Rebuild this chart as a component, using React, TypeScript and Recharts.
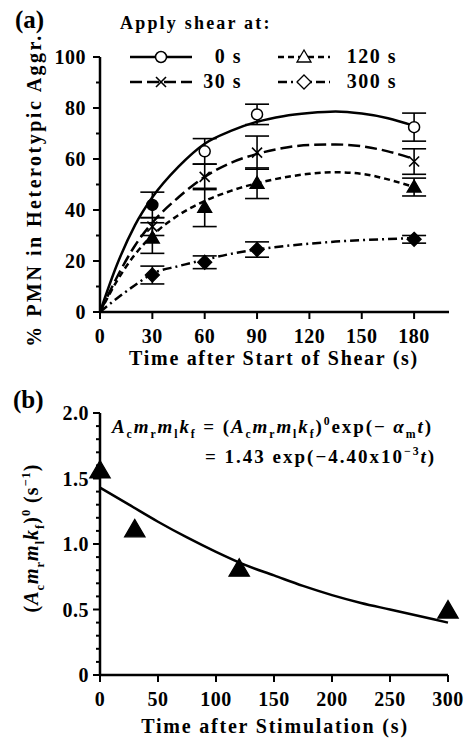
import React from "react";
import { ComposedChart, Line, Scatter, XAxis, YAxis, ErrorBar } from "recharts";

const FONT = '"Liberation Serif", "Times New Roman", serif';

// ---- panel (a): % PMN in heterotypic aggregates
const sampleTimes = [30, 60, 90, 180];
const pmnShear0 = [42, 63, 77.5, 72.5];
const errShear0 = [5, 5, 4, 5.5];
const pmnShear30 = [33.5, 53, 62.5, 59];
const errShear30 = [3.5, 5, 6.5, 5];
const pmnShear120 = [29, 41, 50.5, 49];
const errShear120 = [6, 7.5, 6, 3.5];
const pmnShear300 = [14.5, 19.5, 24.5, 28.5];
const errShear300 = [3.5, 2.5, 3, 1.5];

// fitted curves
const fitTimes = [0, 10, 20, 30, 45, 60, 75, 90, 105, 120, 135, 150, 165, 180];
const fit0 = [0, 19, 34, 45, 57, 66, 71, 74.6, 76.8, 78, 78.6, 77.8, 76, 73];
const fit30 = [0, 14, 26, 35, 45, 53, 58.5, 62, 64.3, 65.5, 65.7, 65, 63, 60];
const fit120 = [0, 12.5, 22.5, 30, 38, 43.5, 47.5, 50.5, 52.7, 54.2, 54.8, 54.2, 52, 49];
const fit300 = [0, 5.5, 10.5, 15, 18, 20.5, 22.8, 24.5, 25.8, 26.8, 27.6, 28.2, 28.6, 29];

const xTicksA = [0, 30, 60, 90, 120, 150, 180];
const yTicksA = [0, 10, 20, 30, 40, 50, 60, 70, 80, 90, 100];

// ---- panel (b): rate constant vs stimulation time
const stimTimes = [0, 30, 120, 300];
const rateValues = [1.56, 1.11, 0.81, 0.49];
const fitTimesB = [0, 25, 50, 75, 100, 125, 150, 175, 200, 225, 250, 275, 300];
const fitB = [1.43, 1.3, 1.17, 1.05, 0.94, 0.84, 0.76, 0.68, 0.61, 0.55, 0.5, 0.45, 0.4];

const xTicksB = [0, 50, 100, 150, 200, 250, 300];
const yTicksB = [0, 0.1, 0.2, 0.3, 0.4, 0.5, 0.6, 0.7, 0.8, 0.9, 1.0, 1.1, 1.2, 1.3, 1.4, 1.5, 1.6, 1.7, 1.8, 1.9, 2.0];

const toPts = (vals: number[], errs: number[]) =>
  sampleTimes.map((t, i) => ({ t, y: vals[i], e: errs[i] }));
const toFit = (ts: number[], vals: number[]) => ts.map((t, i) => ({ t, y: vals[i] }));

type Kind = "circle" | "cross" | "triangle" | "diamond";

const seriesA = [
  { name: "0 s", pts: toPts(pmnShear0, errShear0), fit: toFit(fitTimes, fit0), dash: undefined, kind: "circle" as Kind, filled: false },
  { name: "30 s", pts: toPts(pmnShear30, errShear30), fit: toFit(fitTimes, fit30), dash: "12 5", kind: "cross" as Kind, filled: false },
  { name: "120 s", pts: toPts(pmnShear120, errShear120), fit: toFit(fitTimes, fit120), dash: "6 4", kind: "triangle" as Kind, filled: true },
  { name: "300 s", pts: toPts(pmnShear300, errShear300), fit: toFit(fitTimes, fit300), dash: "9 4 2 4", kind: "diamond" as Kind, filled: true },
];

const ptsB = stimTimes.map((t, i) => ({ t, y: rateValues[i] }));
const curveB = toFit(fitTimesB, fitB);

function Marker({ kind, cx, cy, filled, s = 1 }: { kind: Kind; cx: number; cy: number; filled: boolean; s?: number }) {
  const fill = filled ? "#000" : "#fff";
  if (kind === "circle") return <circle cx={cx} cy={cy} r={5.5 * s} fill={fill} stroke="#000" strokeWidth={1.5} />;
  if (kind === "cross")
    return (
      <g stroke="#000" strokeWidth={1.6}>
        <line x1={cx - 5} y1={cy - 5} x2={cx + 5} y2={cy + 5} />
        <line x1={cx - 5} y1={cy + 5} x2={cx + 5} y2={cy - 5} />
      </g>
    );
  if (kind === "triangle")
    return (
      <polygon
        points={`${cx},${cy - 7 * s} ${cx - 7 * s},${cy + 5 * s} ${cx + 7 * s},${cy + 5 * s}`}
        fill={fill}
        stroke="#000"
        strokeWidth={1.3}
      />
    );
  return (
    <polygon
      points={`${cx},${cy - 7} ${cx + 7},${cy} ${cx},${cy + 7} ${cx - 7},${cy}`}
      fill={fill}
      stroke="#000"
      strokeWidth={1.3}
    />
  );
}

const tickText = { fontFamily: FONT, fontWeight: "bold" as const, fontSize: 20, fill: "#000", letterSpacing: 0.5 };

const YTickA = (p: any) => {
  const v = p.payload.value;
  const major = v % 20 === 0;
  return (
    <g>
      <line x1={p.x} x2={p.x - (major ? 7 : 4)} y1={p.y} y2={p.y} stroke="#000" strokeWidth={2} />
      {major && (
        <text x={p.x - 14} y={p.y} dy="0.35em" textAnchor="end" {...tickText}>
          {v}
        </text>
      )}
    </g>
  );
};

const YTickB = (p: any) => {
  const v = p.payload.value;
  const major = Math.round(v * 10) % 5 === 0;
  return (
    <g>
      <line x1={p.x} x2={p.x - (major ? 7 : 4)} y1={p.y} y2={p.y} stroke="#000" strokeWidth={2} />
      {major && (
        <text x={p.x - 11} y={p.y} dy="0.35em" textAnchor="end" {...tickText}>
          {v === 0 ? "0" : v.toFixed(1)}
        </text>
      )}
    </g>
  );
};

const XTick = (p: any) => (
  <g>
    <line x1={p.x} x2={p.x} y1={p.y} y2={p.y + 7} stroke="#000" strokeWidth={2} />
    <text x={p.x} y={p.y + 31} textAnchor="middle" {...tickText}>
      {p.payload.value}
    </text>
  </g>
);

// rich text with sub/superscripts: [text, italic?, pos] pos: 1 sup, -1 sub
type Seg = [string, boolean?, number?];
function Rich({ x, y, size, segs, anchor, rotate, spacing = 0 }: { x: number; y: number; size: number; segs: Seg[]; anchor?: string; rotate?: boolean; spacing?: number }) {
  let cur = 0;
  return (
    <text
      x={x}
      y={y}
      fontSize={size}
      fontFamily={FONT}
      fontWeight="bold"
      letterSpacing={spacing}
      textAnchor={anchor || "start"}
      transform={rotate ? `rotate(-90 ${x} ${y})` : undefined}
      fill="#000"
    >
      {segs.map(([s, it, pos = 0], i) => {
        const off = pos === 1 ? -size * 0.4 : pos === -1 ? size * 0.28 : 0;
        const dy = off - cur;
        cur = off;
        return (
          <tspan key={i} dy={dy} fontStyle={it ? "italic" : "normal"} fontSize={pos ? size * 0.62 : size}>
            {s}
          </tspan>
        );
      })}
    </text>
  );
}

const ampk: Seg[] = [
  ["A", true], ["c", false, -1], ["m", true], ["r", false, -1], ["m", true], ["l", false, -1], ["k", true], ["f", false, -1],
];

function Overlay() {
  const legendRows = [
    { s: seriesA[0], x0: 130, x1: 192, lx: 242, y: 57 },
    { s: seriesA[1], x0: 130, x1: 192, lx: 242, y: 82 },
    { s: seriesA[2], x0: 278, x1: 330, lx: 397, y: 57 },
    { s: seriesA[3], x0: 278, x1: 330, lx: 397, y: 82 },
  ];
  return (
    <svg width={468} height={740} style={{ position: "absolute", left: 0, top: 0, pointerEvents: "none" }}>
      <text x={15} y={28} fontFamily={FONT} fontWeight="bold" fontSize={25}>(a)</text>
      <text x={13} y={408} fontFamily={FONT} fontWeight="bold" fontSize={25}>(b)</text>

      <text x={120} y={29} fontFamily={FONT} fontWeight="bold" fontSize={18} letterSpacing={2.2}>
        Apply shear at:
      </text>
      {legendRows.map(({ s, x0, x1, lx, y }) => (
        <g key={s.name}>
          <line x1={x0} x2={x1} y1={y} y2={y} stroke="#000" strokeWidth={2.5} strokeDasharray={s.dash} />
          <Marker kind={s.kind} cx={(x0 + x1) / 2} cy={y} filled={false} />
          <text x={lx} y={y + 6} textAnchor="end" {...tickText} letterSpacing={1.5}>
            {s.name}
          </text>
        </g>
      ))}

      <text
        x={34}
        y={190}
        transform="rotate(-90 34 190)"
        dy="0.35em"
        textAnchor="middle"
        fontFamily={FONT}
        fontWeight="bold"
        fontSize={20}
        letterSpacing={2.5}
      >
        % PMN in Heterotypic Aggr.
      </text>
      <text x={274} y={365} textAnchor="middle" fontFamily={FONT} fontWeight="bold" fontSize={20} letterSpacing={1.7}>
        Time after Start of Shear (s)
      </text>
      <text x={275} y={733} textAnchor="middle" fontFamily={FONT} fontWeight="bold" fontSize={20} letterSpacing={1.8}>
        Time after Stimulation (s)
      </text>

      <Rich
        x={38}
        y={538}
        size={20}
        anchor="middle"
        rotate
        spacing={1}
        segs={[["("], ...ampk, [")"], ["0", false, 1], [" (s"], ["\u22121", false, 1], [")"]]}
      />

      <Rich
        x={112}
        y={433}
        size={19}
        spacing={1.9}
        segs={[...ampk, [" = ("], ...ampk, [")"], ["0", false, 1], ["exp(\u2212 "], ["\u03b1", true], ["m", false, -1], ["t", true], [")"]]}
      />
      <Rich
        x={205}
        y={463}
        size={19}
        spacing={2}
        segs={[["= 1.43 exp(\u22124.40x10"], ["\u22123", false, 1], ["t", true], [")"]]}
      />
    </svg>
  );
}

export default function App() {
  return (
    <div style={{ position: "absolute", left: 0, top: 0, width: 468, height: 740, background: "#fff" }}>
      <div style={{ position: "absolute", left: 0, top: 0 }}>
        <ComposedChart width={468} height={370} margin={{ top: 57, right: 19, bottom: 28, left: 60 }}>
          <XAxis
            type="number"
            dataKey="t"
            domain={[0, 200]}
            ticks={xTicksA}
            interval={0}
            height={30}
            tickSize={0}
            tickMargin={0}
            tickLine={false}
            axisLine={{ stroke: "#000", strokeWidth: 2.5 }}
            tick={XTick}
          />
          <YAxis
            type="number"
            dataKey="y"
            domain={[0, 100]}
            ticks={yTicksA}
            interval={0}
            width={40}
            tickSize={0}
            tickMargin={0}
            tickLine={false}
            axisLine={{ stroke: "#000", strokeWidth: 2.5 }}
            tick={YTickA}
          />
          {seriesA.map((s) => (
            <Line
              key={"fit" + s.name}
              data={s.fit}
              dataKey="y"
              type="monotone"
              stroke="#000"
              strokeWidth={2.5}
              strokeDasharray={s.dash}
              dot={false}
              activeDot={false}
              isAnimationActive={false}
            />
          ))}
          {seriesA.map((s) => (
            <Scatter
              key={"pts" + s.name}
              data={s.pts}
              dataKey="y"
              isAnimationActive={false}
              shape={(p: any) => (
                <Marker
                  kind={s.kind}
                  cx={p.cx}
                  cy={p.cy}
                  filled={s.filled || (s.kind === "circle" && p.payload && p.payload.t === sampleTimes[0])}
                />
              )}
            >
              <ErrorBar dataKey="e" direction="y" width={12} stroke="#000" strokeWidth={1.6} />
            </Scatter>
          ))}
        </ComposedChart>
      </div>

      <div style={{ position: "absolute", left: 0, top: 380 }}>
        <ComposedChart width={468} height={360} margin={{ top: 33, right: 20, bottom: 35, left: 60 }}>
          <XAxis
            type="number"
            dataKey="t"
            domain={[0, 300]}
            ticks={xTicksB}
            interval={0}
            height={30}
            tickSize={0}
            tickMargin={0}
            tickLine={false}
            axisLine={{ stroke: "#000", strokeWidth: 2.5 }}
            tick={XTick}
          />
          <YAxis
            type="number"
            dataKey="y"
            domain={[0, 2]}
            ticks={yTicksB}
            interval={0}
            width={40}
            tickSize={0}
            tickMargin={0}
            tickLine={false}
            axisLine={{ stroke: "#000", strokeWidth: 2.5 }}
            tick={YTickB}
          />
          <Line
            data={curveB}
            dataKey="y"
            type="monotone"
            stroke="#000"
            strokeWidth={2.5}
            dot={false}
            activeDot={false}
            isAnimationActive={false}
          />
          <Scatter
            data={ptsB}
            dataKey="y"
            isAnimationActive={false}
            shape={(p: any) => <Marker kind="triangle" cx={p.cx} cy={p.cy} filled s={1.45} />}
          />
        </ComposedChart>
      </div>

      <Overlay />
    </div>
  );
}
